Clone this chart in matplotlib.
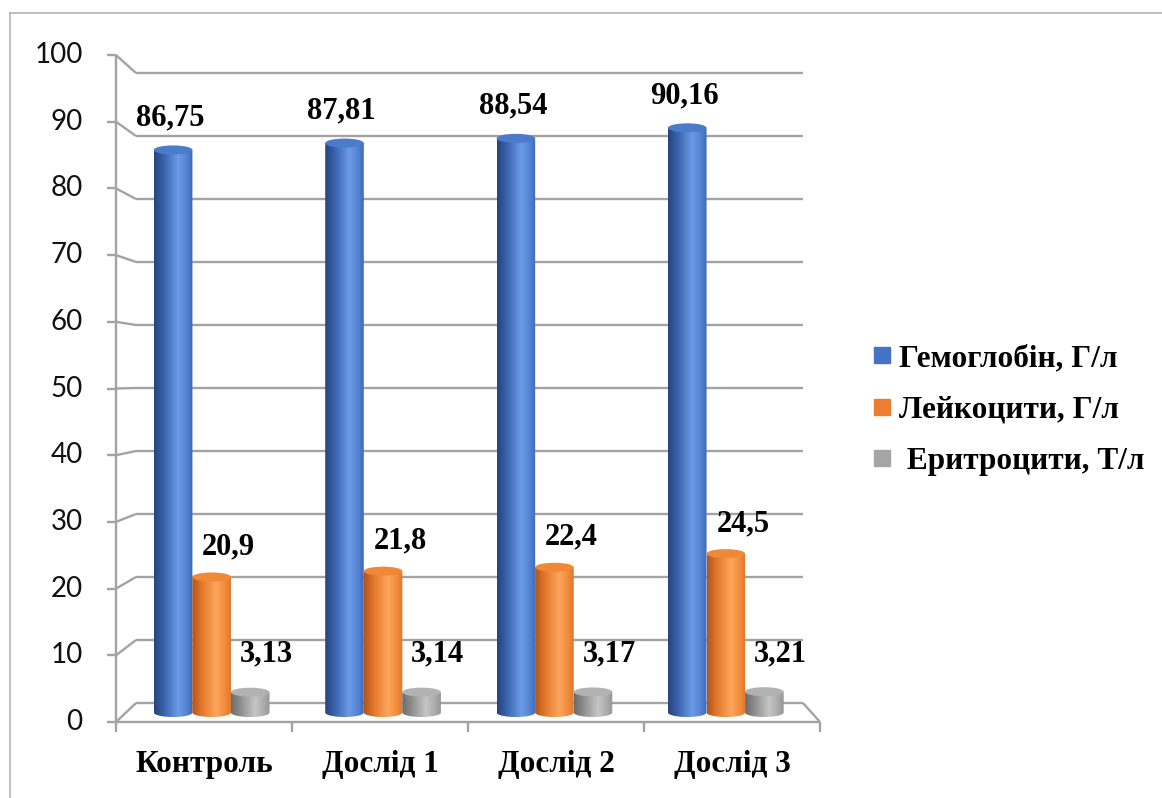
import numpy as np
import matplotlib
matplotlib.use('Agg')
import matplotlib.pyplot as plt
from matplotlib.patches import Polygon, Ellipse
from matplotlib.lines import Line2D
from matplotlib.colors import to_rgb

categories = ['Контроль', 'Дослід 1', 'Дослід 2', 'Дослід 3']
series_names = ['Гемоглобін, Г/л', 'Лейкоцити, Г/л', ' Еритроцити, Т/л']
hemoglobin = [86.75, 87.81, 88.54, 90.16]
leukocytes = [20.9, 21.8, 22.4, 24.5]
erythrocytes = [3.13, 3.14, 3.17, 3.21]
y_ticks = list(range(0, 101, 10))

series = [hemoglobin, leukocytes, erythrocytes]

# body gradients (left -> right) and top-cap colours of the cylinders
gradients = [
    [(0, '#27457d'), (0.25, '#3a62ad'), (0.62, '#6b9ae6'), (0.85, '#5483d4'), (1, '#3f69b8')],
    [(0, '#b3561a'), (0.25, '#e3782c'), (0.62, '#fca65c'), (0.85, '#f28c3c'), (1, '#df782b')],
    [(0, '#6c6c6c'), (0.25, '#8f8f8f'), (0.62, '#c6c6c6'), (0.85, '#ababab'), (1, '#979797')],
]
tops = ['#4d7bcb', '#f08838', '#b2b2b2']
legend_colors = ['#4472c4', '#ed7d31', '#a5a5a5']

W, H = 1162, 798
fig = plt.figure(figsize=(W / 100, H / 100), dpi=100)
ax = fig.add_axes([0, 0, 1, 1])

# back wall: categories 0..4 between x=136..803 px, values 0..100 between y=703..73 px
px_x = (803 - 136) / 4
px_y = (703 - 73) / 100
ax.set_xlim(-136 / px_x, (W - 136) / px_x)
ax.set_ylim(-(H - 703) / px_y, 703 / px_y)
ax.axis('off')

n_cat = len(categories)


def proj(xb, v, d):
    """perspective position: d=1 back wall, d=0 front edge"""
    f = 1 - d
    return xb * (1 + 0.0555 * f) - 0.12 * f, v * (1 + 0.0587 * f) - 3.016 * f


grid_kw = dict(color='#a3a3a3', lw=1.7, solid_capstyle='butt', zorder=1)
tick_dx = 9 / px_x

# gridlines on the back wall, side-wall diagonals and front ticks
for v in y_ticks:
    ax.plot([0, n_cat], [v, v], **grid_kw)
    fx, fy = proj(0, v, 0)
    ax.plot([fx, 0], [fy, v], **grid_kw)
    ax.plot([fx - tick_dx, fx], [fy, fy], **grid_kw)
    ax.text(fx - 0.2, fy, str(v), ha='right', va='center', fontsize=20,
            family=['Lato', 'DejaVu Sans'], color='#111111')

# front vertical edge
x0f, y0f = proj(0, 0, 0)
x0t, y0t = proj(0, y_ticks[-1], 0)
ax.plot([x0f, x0t], [y0f, y0t], **grid_kw)

# floor front edge, right diagonal, category ticks
x4f, y4f = proj(n_cat, 0, 0)
ax.plot([x0f, x4f], [y0f, y4f], **grid_kw)
ax.plot([n_cat, x4f], [0, y4f], **grid_kw)
for i in range(n_cat + 1):
    cx, cy = proj(i, 0, 0)
    ax.plot([cx, cx], [cy, cy - 10 / px_y], **grid_kw)

for i, name in enumerate(categories):
    cx, _ = proj(i + 0.5, 0, 0)
    ax.text(cx, -9.8, name, ha='center', va='center', fontsize=22.5,
            fontweight='bold', family='Liberation Serif')


def gradient_row(stops, n=64):
    pos = [s[0] for s in stops]
    cols = np.array([to_rgb(s[1]) for s in stops])
    t = np.linspace(0, 1, n)
    return np.stack([np.interp(t, pos, cols[:, k]) for k in range(3)], axis=-1)[None, :, :]


bar_w = 0.225
cap_h = 9 / px_y
label_dx = [-3 / px_x, 17 / px_x, 16 / px_x]
label_dy = [32 / px_y, 30 / px_y, 38 / px_y]

for s, vals in enumerate(series):
    img = gradient_row(gradients[s])
    for i, v in enumerate(vals):
        xc_b = i + 0.5 + (s - 1) * bar_w
        xc, ytop = proj(xc_b, v, 0.5)
        _, ybot = proj(xc_b, 0, 0.5)
        hw = bar_w * 1.028 / 2
        x0, x1 = xc - hw, xc + hw
        b = cap_h / 2
        t = np.linspace(0, -np.pi, 40)
        arc = np.column_stack([xc + hw * np.cos(t), ybot + b * np.sin(t)])
        outline = np.vstack([[[x0, ytop], [x1, ytop]], arc])
        clip = Polygon(outline, closed=True, transform=ax.transData,
                       facecolor='none', edgecolor='none')
        ax.add_patch(clip)
        im = ax.imshow(img, extent=[x0, x1, ybot - b, ytop], aspect='auto',
                       interpolation='bilinear', zorder=2 + s)
        im.set_clip_path(clip)
        ax.add_patch(Ellipse((xc, ytop), 2 * hw, cap_h, facecolor=tops[s],
                             edgecolor='none', zorder=2 + s))
        ax.text(xc + label_dx[s], ytop + label_dy[s], str(v).replace('.', ','),
                ha='center', va='center', fontsize=22, fontweight='bold',
                family='Liberation Serif', zorder=6)

ax.set_xlim(-136 / px_x, (W - 136) / px_x)
ax.set_ylim(-(H - 703) / px_y, 703 / px_y)

handles = [Line2D([], [], marker='s', ls='', markersize=12, color=c) for c in legend_colors]
fig.legend(handles, series_names, loc='center left',
           bbox_to_anchor=(858 / W, 1 - 410 / H), frameon=False, borderpad=0,
           handlelength=0.55, handletextpad=0.25, labelspacing=0.72,
           prop=dict(family='Liberation Serif', weight='bold', size=22.5))

# outer chart frame (left and top edges in view)
fig.add_artist(Line2D([10 / W, 10 / W], [0, 1 - 13 / H], transform=fig.transFigure,
                      color='#b4b4b4', lw=1.2))
fig.add_artist(Line2D([10 / W, 1], [1 - 13 / H, 1 - 13 / H], transform=fig.transFigure,
                      color='#b4b4b4', lw=1.2))

fig.savefig('out.png', dpi=100, facecolor='white')
